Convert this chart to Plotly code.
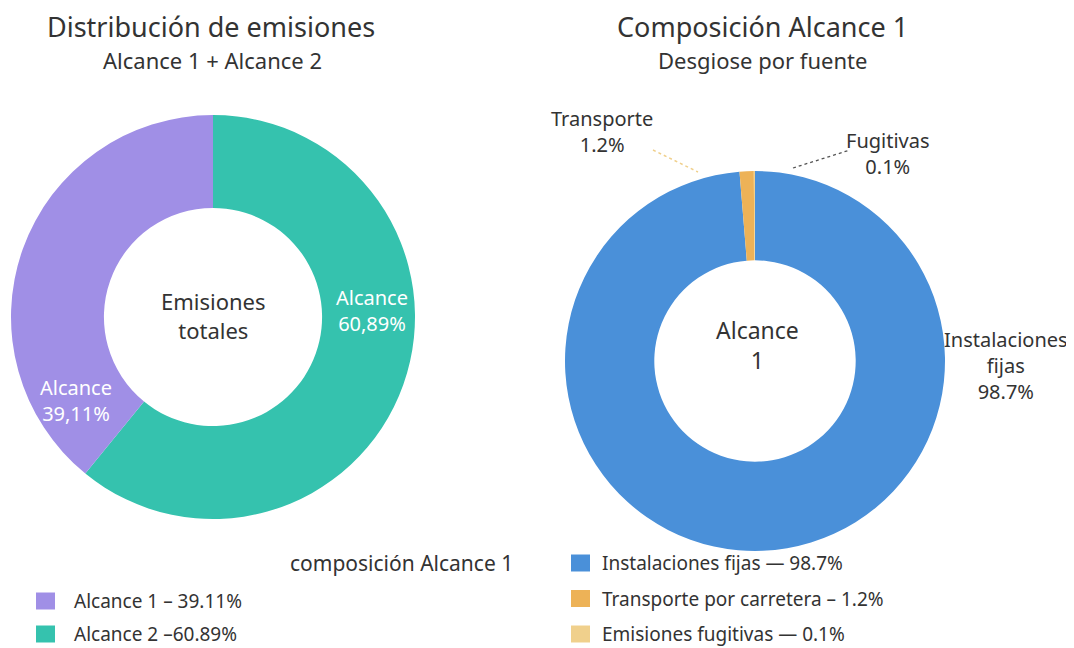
import plotly.graph_objects as go

# ---------------- data ----------------
scope_labels = ["Alcance 1", "Alcance 2"]
scope_values = [39.11, 60.89]
scope_value_text = ["39,11%", "60,89%"]
scope_legend_text = ["Alcance 1 \u2013 39.11%", "Alcance 2 \u201360.89%"]

source_labels = ["Instalaciones fijas", "Transporte por carretera", "Emisiones fugitivas"]
source_short = ["Instalaciones<br>fijas", "Transporte", "Fugitivas"]
source_values = [98.7, 1.2, 0.1]
source_legend_text = ["Instalaciones fijas \u2014 98.7%", "Transporte por carretera \u2013 1.2%",
                      "Emisiones fugitivas \u2014 0.1%"]

# ---------------- styles ----------------
FONT = "Noto Sans"
TXT = "#333333"
scope_colors = ["#A08FE6", "#35C2AE"]
source_colors = ["#4A90D9", "#EDB257", "#F0D08C"]
OFF = 8                      # page body margin
W, H = 1074 - OFF, 648 - OFF


def px(x):
    return (x - OFF) / W


def py(y):
    return 1 - (y - OFF) / H


fig = go.Figure()

# left donut (Alcance 2 clockwise from 12 o'clock, Alcance 1 fills the left side)
fig.add_trace(go.Pie(
    labels=scope_labels[::-1], values=scope_values[::-1], hole=0.54, sort=False,
    direction="clockwise", rotation=0,
    marker=dict(colors=scope_colors[::-1], line=dict(width=0)),
    textinfo="none", showlegend=False,
    domain=dict(x=[px(11), px(415)], y=[py(519), py(115)]),
))

# right donut
fig.add_trace(go.Pie(
    labels=source_labels, values=source_values, hole=0.53, sort=False,
    direction="clockwise", rotation=0,
    marker=dict(colors=source_colors, line=dict(width=0)),
    textinfo="none", showlegend=False,
    domain=dict(x=[px(565), px(945)], y=[py(551), py(171)]),
))

ann = []


def add_text(x, y, text, size, color=TXT, xanchor="center"):
    ann.append(dict(x=px(x), y=py(y), xref="paper", yref="paper", text=text, showarrow=False,
                    font=dict(family=FONT, size=size, color=color), xanchor=xanchor,
                    yanchor="middle", align="center"))


# titles
add_text(211, 27, "Distribución de emisiones", 27)
add_text(212, 60, "Alcance 1 + Alcance 2", 22)
add_text(762, 27, "Composición Alcance 1", 27)
add_text(762, 60, "Desgiose por fuente", 22)

# centers
add_text(213, 315, "Emisiones<br>totales", 22)
add_text(757, 345, "Alcance<br>1", 23)

# slice labels on left donut
add_text(76, 400, scope_labels[0].split()[0] + "<br>" + scope_value_text[0], 20, "white")
add_text(372, 310, scope_labels[1].split()[0] + "<br>" + scope_value_text[1], 20, "white")

# outside labels right donut
add_text(1006, 365, f"{source_short[0]}<br>{source_values[0]}%", 20)
add_text(602, 132, f"{source_short[1]}<br>{source_values[1]}%", 20)
add_text(888, 153, f"{source_short[2]}<br>{source_values[2]}%", 20)

shapes = [
    dict(type="line", xref="paper", yref="paper", x0=px(653), y0=py(150), x1=px(698), y1=py(172),
         line=dict(color="#F0D08C", width=1.5, dash="dot")),
    dict(type="line", xref="paper", yref="paper", x0=px(793), y0=py(168), x1=px(850), y1=py(150),
         line=dict(color="#555555", width=1.3, dash="dot")),
]

# legends (manual)
add_text(515, 563, "composición Alcance 1", 21, xanchor="right")
for i, (t, c) in enumerate(zip(scope_legend_text, scope_colors)):
    yc = 601 + i * 33
    shapes.append(dict(type="rect", xref="paper", yref="paper", x0=px(36), x1=px(55),
                       y0=py(yc - 8.5), y1=py(yc + 8.5), fillcolor=c, line=dict(width=0)))
    add_text(72, yc, t, 19, xanchor="left")
for i, (t, c) in enumerate(zip(source_legend_text, source_colors)):
    yc = 563 + i * 35.5
    shapes.append(dict(type="rect", xref="paper", yref="paper", x0=px(571), x1=px(590),
                       y0=py(yc - 8.5), y1=py(yc + 8.5), fillcolor=c, line=dict(width=0)))
    add_text(600, yc, t, 19, xanchor="left")

fig.update_layout(
    width=W, height=H, margin=dict(l=0, r=0, t=0, b=0),
    paper_bgcolor="white", plot_bgcolor="white",
    annotations=ann, shapes=shapes,
    font=dict(family=FONT, color=TXT),
)

fig.write_html("out.html")
